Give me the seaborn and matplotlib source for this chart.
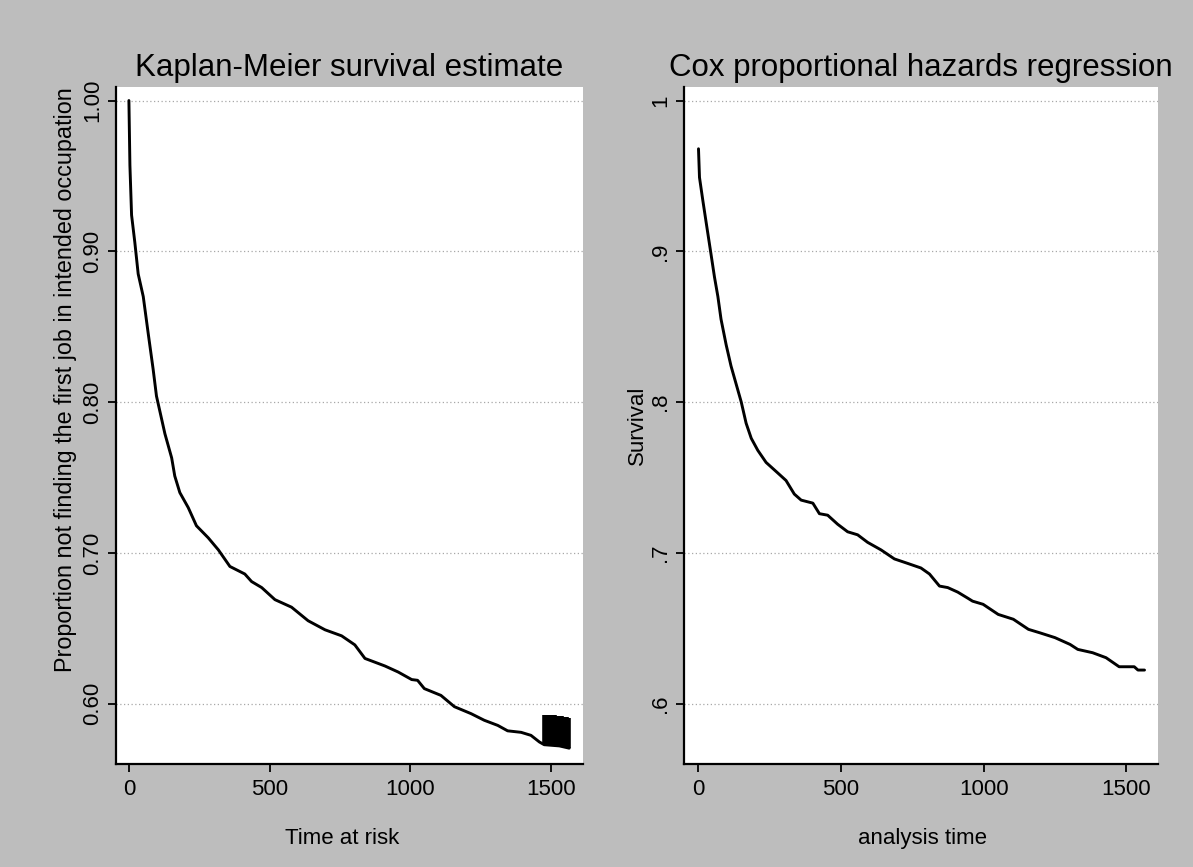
import numpy as np
import pandas as pd
import matplotlib
matplotlib.use("Agg")
import matplotlib.pyplot as plt
import seaborn as sns

# ---------------- data ----------------
km_time = [0, 3.6, 9.5, 21, 33, 51, 69, 86, 98, 116, 128, 152, 163, 181, 211, 240,
           282, 318, 359, 412, 436, 472, 519, 578, 637, 697, 756, 803, 839, 910,
           957, 1005, 1026, 1050, 1109, 1157, 1216, 1263, 1311, 1346, 1394, 1429,
           1459, 1476, 1530, 1565]
km_surv = [1.000, 0.957, 0.924, 0.906, 0.885, 0.870, 0.845, 0.822, 0.804, 0.789,
           0.779, 0.763, 0.751, 0.740, 0.730, 0.718, 0.710, 0.702, 0.691, 0.686,
           0.681, 0.677, 0.669, 0.664, 0.655, 0.649, 0.645, 0.639, 0.630, 0.625,
           0.621, 0.616, 0.6155, 0.610, 0.6055, 0.598, 0.5934, 0.589, 0.5856,
           0.582, 0.581, 0.579, 0.5746, 0.5728, 0.572, 0.5705]

# censored observations at the end of follow-up (drawn as ticks)
km_censor_time = [1476, 1480, 1484, 1488, 1492, 1496, 1500, 1504, 1508, 1512,
                  1516, 1520, 1524, 1528, 1536, 1540, 1544, 1548, 1552, 1556,
                  1560, 1564]

cox_time = [0, 3.5, 15, 27, 44, 56, 68, 79, 97, 114, 132, 150, 167, 185, 208, 237,
            278, 307, 336, 360, 401, 424, 453, 488, 523, 558, 593, 640, 687, 734,
            780, 810, 845, 874, 909, 944, 961, 998, 1051, 1104, 1157, 1197, 1250,
            1303, 1330, 1382, 1429, 1475, 1528, 1541, 1564]
cox_surv = [0.968, 0.949, 0.934, 0.919, 0.898, 0.883, 0.870, 0.855, 0.838, 0.824,
            0.812, 0.800, 0.786, 0.776, 0.768, 0.760, 0.753, 0.748, 0.739, 0.735,
            0.733, 0.726, 0.725, 0.719, 0.714, 0.712, 0.707, 0.702, 0.696, 0.693,
            0.690, 0.686, 0.678, 0.677, 0.674, 0.670, 0.668, 0.6659, 0.6592, 0.656,
            0.6493, 0.647, 0.6438, 0.6393, 0.636, 0.6338, 0.6305, 0.6245, 0.6245,
            0.6223, 0.6223]

y_ticks = [0.6, 0.7, 0.8, 0.9, 1.0]
km_ytick_labels = ["0.60", "0.70", "0.80", "0.90", "1.00"]
cox_ytick_labels = [".6", ".7", ".8", ".9", "1"]
x_ticks = [0, 500, 1000, 1500]
x_tick_labels = ["0", "500", "1000", "1500"]

km_title = "Kaplan-Meier survival estimate"
cox_title = "Cox proportional hazards regression"
km_xlabel = "Time at risk"
km_ylabel = "Proportion not finding the first job in intended occupation"
cox_xlabel = "analysis time"
cox_ylabel = "Survival"

# ---------------- style ----------------
sns.set_style("white")
plt.rcParams['font.family'] = ['Liberation Sans', 'DejaVu Sans']

BG = "#bdbdbd"
fig = plt.figure(figsize=(11.93, 8.67), dpi=100, facecolor=BG)
ax1 = fig.add_axes([0.0972, 0.1188, 0.3915, 0.7809])
ax2 = fig.add_axes([0.5733, 0.1188, 0.3973, 0.7809])

km_df = pd.DataFrame({"t": km_time, "s": km_surv})
cox_df = pd.DataFrame({"t": cox_time, "s": cox_surv})

sns.lineplot(data=km_df, x="t", y="s", ax=ax1, color="black", linewidth=2.1,
             sort=False, estimator=None)
cens_y = np.interp(km_censor_time, km_time, km_surv)
ax1.vlines(km_censor_time, cens_y, cens_y + 0.02, color="black", linewidth=2.6)

sns.lineplot(data=cox_df, x="t", y="s", ax=ax2, color="black", linewidth=2.1,
             sort=False, estimator=None)


def style(ax, yticklabels, title, xlabel, ylabel, ylabel_size, xlim,
          xlab_x, ylab_x, ylab_y):
    ax.set_facecolor("white")
    ax.set_xlim(*xlim)
    ax.set_ylim(0.560, 1.009)
    for s in ["top", "right"]:
        ax.spines[s].set_visible(False)
    for s in ["left", "bottom"]:
        ax.spines[s].set_color("black")
        ax.spines[s].set_linewidth(1.6)
    ax.set_yticks(y_ticks)
    ax.set_yticklabels(yticklabels, rotation=90, va="center")
    ax.set_xticks(x_ticks)
    ax.set_xticklabels(x_tick_labels)
    ax.tick_params(axis="both", which="major", direction="out", length=6,
                   width=1.3, color="black", labelsize=16, labelcolor="black",
                   bottom=True, left=True)
    ax.tick_params(axis="x", pad=5)
    ax.tick_params(axis="y", pad=3)
    ax.yaxis.grid(True, color="#a8a8a8", linestyle=(0, (1, 2)), linewidth=0.9)
    ax.xaxis.grid(False)
    ax.set_axisbelow(True)
    ax.set_title(title, fontsize=22.5, color="black", y=1.016, pad=0)
    ax.set_xlabel(xlabel, fontsize=16, color="black")
    ax.set_ylabel(ylabel, fontsize=ylabel_size, color="black")
    ax.xaxis.set_label_coords(xlab_x, -0.095)
    ax.yaxis.set_label_coords(ylab_x, ylab_y)


style(ax1, km_ytick_labels, km_title, km_xlabel, km_ylabel, 16.8, (-46, 1614),
      0.485, -0.084, 0.567)
style(ax2, cox_ytick_labels, cox_title, cox_xlabel, cox_ylabel, 16, (-51, 1611),
      0.503, -0.076, 0.5)

fig.savefig("out.png", dpi=100, facecolor=BG)
